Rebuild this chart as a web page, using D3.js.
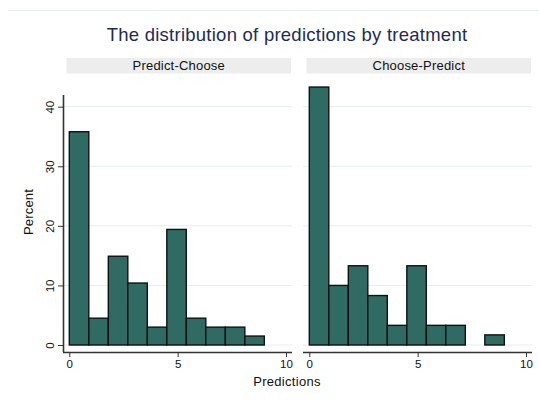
<!DOCTYPE html>
<html><head><meta charset="utf-8">
<script src="https://cdn.jsdelivr.net/npm/d3@7"></script>
<style>body{margin:0;background:#fff}svg{display:block;font-family:Arial,"Liberation Sans",sans-serif}</style>
</head><body>
<svg id="c" width="539" height="400"></svg>
<script>
const panels = ["Predict-Choose", "Choose-Predict"];
const binWidth = 0.9;
const binStarts = [0, 0.9, 1.8, 2.7, 3.6, 4.5, 5.4, 6.3, 7.2, 8.1];
const predictChoose = [35.8, 4.5, 14.9, 10.4, 3.0, 19.4, 4.5, 3.0, 3.0, 1.5];
const choosePredict = [43.3, 10.0, 13.3, 8.3, 3.3, 13.3, 3.3, 3.3, 0, 1.7];
const xTicks = [0, 5, 10];
const yTicks = [0, 10, 20, 30, 40];
const series = [predictChoose, choosePredict];

const svg = d3.select("#c");
const barFill = "#2f6b62", gridCol = "#e4edf0";

svg.append("line").attr("x1", 8).attr("x2", 539).attr("y1", 10.5).attr("y2", 10.5)
  .attr("stroke", "#e6efee").attr("stroke-width", 1);

svg.append("text").attr("x", 287).attr("y", 41).attr("text-anchor", "middle")
  .attr("font-size", 18.5).attr("letter-spacing", 0.25).attr("fill", "#1d2b58")
  .text("The distribution of predictions by treatment");

const y = d3.scaleLinear().domain([0, 40]).range([345, 106.7]);
const regions = [{x0: 63, x1: 292, r0: 69.3, r1: 286}, {x0: 303, x1: 532, r0: 309.3, r1: 526}];

regions.forEach((reg, p) => {
  const x = d3.scaleLinear().domain([0, 10]).range([reg.r0, reg.r1]);
  const g = svg.append("g");
  // strip
  g.append("rect").attr("x", reg.x0 + 3.5).attr("y", 58).attr("width", reg.x1 - reg.x0 - 4.5).attr("height", 15.5)
    .attr("fill", "#ededed");
  g.append("text").attr("x", (reg.x0 + 3.5 + reg.x1 - 1) / 2).attr("y", 70.3).attr("text-anchor", "middle")
    .attr("font-size", 13).attr("letter-spacing", 0.2).attr("fill", "#111").text(panels[p]);
  // gridlines
  g.selectAll(".grid").data(yTicks).join("line")
    .attr("x1", reg.x0).attr("x2", reg.x1).attr("y1", d => y(d)).attr("y2", d => y(d))
    .attr("stroke", gridCol).attr("stroke-width", 1);
  // bars
  const data = binStarts.map((b, i) => ({b, v: series[p][i]})).filter(d => d.v > 0);
  g.selectAll(".bar").data(data).join("rect")
    .attr("x", d => x(d.b)).attr("width", d => x(d.b + binWidth) - x(d.b))
    .attr("y", d => y(d.v)).attr("height", d => y(0) - y(d.v))
    .attr("fill", barFill).attr("stroke", "#111").attr("stroke-width", 1.4);
  // x axis
  const xa = g.append("g").attr("transform", "translate(0,352)")
    .call(d3.axisBottom(x).tickValues(xTicks).tickSize(5).tickPadding(3).tickFormat(d3.format("d")));
  xa.select(".domain").attr("d", `M${reg.x0},0.5H${reg.x1}`).attr("stroke", "#333").attr("stroke-width", 1.6);
  xa.selectAll(".tick line").attr("stroke", "#333");
  xa.selectAll("text").attr("font-size", 11.5).attr("fill", "#111").attr("font-family", "Arial,'Liberation Sans',sans-serif");
  if (p === 0) {
    const ya = g.append("g").attr("transform", `translate(${reg.x0},0)`)
      .call(d3.axisLeft(y).tickValues(yTicks).tickSize(5).tickPadding(0).tickFormat(d3.format("d")));
    ya.select(".domain").attr("d", `M0.5,${95}V${352}`).attr("stroke", "#333").attr("stroke-width", 1.6);
    ya.selectAll(".tick line").attr("stroke", "#333");
    ya.selectAll("text").attr("font-size", 11.5).attr("fill", "#111").attr("font-family", "Arial,'Liberation Sans',sans-serif")
      .attr("x", null).attr("dy", null)
      .attr("text-anchor", "middle").attr("transform", "translate(-13,0) rotate(-90)").attr("dy", "0.35em");
  }
});

svg.append("text").attr("x", 287).attr("y", 386).attr("text-anchor", "middle")
  .attr("font-size", 13).attr("letter-spacing", 0.3).attr("fill", "#111").text("Predictions");
svg.append("text").attr("transform", "translate(33,212) rotate(-90)").attr("text-anchor", "middle")
  .attr("font-size", 13).attr("letter-spacing", 0.2).attr("fill", "#111").text("Percent");
</script>
</body></html>
